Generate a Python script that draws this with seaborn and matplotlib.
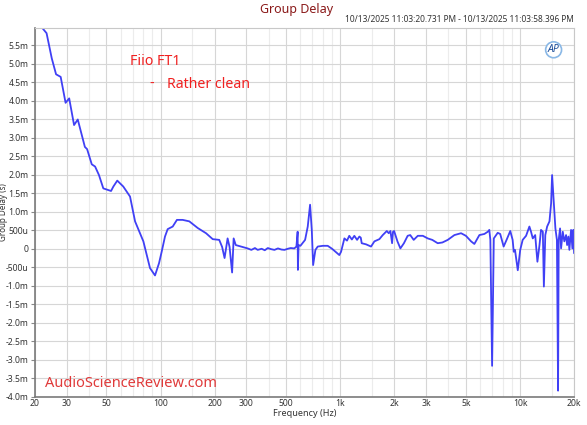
import pandas as pd
import seaborn as sns
import matplotlib.pyplot as plt
from matplotlib.ticker import FixedLocator, FuncFormatter, NullFormatter

# Group delay trace (Hz, milliseconds)
freq_hz = [20, 23.2, 24.8, 26.2, 27.8, 29.6, 31.0, 33.0, 34.6, 37.9,
           39.0, 41.4, 43.2, 45.4, 48.0, 53.0, 54.6, 57.4, 62.0, 67.6,
           72.1, 76.8, 80.2, 83.7, 87.3, 93.1, 98.0, 101.4, 105.8, 109.5,
           116.8, 123.3, 132.7, 144.5, 161, 179, 195, 212, 220, 227,
           236, 242, 250, 255, 262, 280, 305, 320, 335, 347,
           365, 380, 395, 412, 430, 450, 470, 489, 510, 530,
           555, 570, 579, 581, 586, 600, 637, 659, 679, 694,
           706, 727, 749, 800, 851, 900, 950, 988, 1010, 1054,
           1090, 1122, 1160, 1197, 1240, 1277, 1300, 1316, 1391, 1483,
           1548, 1650, 1723, 1815, 1860, 1901, 1942, 1965, 1993, 2080,
           2160, 2260, 2371, 2450, 2562, 2700, 2880, 3066, 3250, 3485,
           3700, 3963, 4315, 4700, 5000, 5345, 5573, 5943, 6336, 6620,
           6750, 6840, 6995, 7150, 7515, 7760, 8110, 8420, 8830, 9100,
           9230, 9380, 9720, 10030, 10350, 10810, 11280, 11520, 11780, 12150,
           12500, 12840, 13090, 13400, 13580, 13830, 14160, 14590, 14900, 15090,
           15400, 15740, 16050, 16290, 16420, 16710, 16930, 17300, 17650, 18050,
           18290, 18590, 18830, 19240, 19570, 19800, 20000]
delay_ms = [6.2, 5.82, 5.14, 4.71, 4.64, 3.94, 4.06, 3.34, 3.49, 2.75,
            2.69, 2.28, 2.22, 1.99, 1.63, 1.56, 1.68, 1.84, 1.68, 1.41,
            0.74, 0.42, 0.20, -0.16, -0.52, -0.72, -0.39, -0.08, 0.33, 0.53,
            0.60, 0.78, 0.78, 0.74, 0.56, 0.42, 0.26, 0.24, 0.05, -0.25,
            0.28, 0.05, -0.64, 0.28, 0.10, 0.06, 0.01, -0.03, 0.02, -0.03,
            0.0, -0.04, 0.02, -0.01, -0.03, 0.01, -0.02, -0.03, 0.0, 0.02,
            0.01, 0.06, 0.46, -0.57, 0.10, 0.08, 0.24, 0.60, 1.19, 0.51,
            -0.44, -0.03, 0.06, 0.08, 0.08, 0.0, -0.10, -0.17, -0.08, 0.28,
            0.22, 0.35, 0.25, 0.35, 0.24, 0.33, 0.30, 0.15, 0.12, 0.06,
            0.20, 0.26, 0.37, 0.48, 0.42, 0.48, 0.15, 0.46, 0.48, 0.20,
            0.01, 0.15, 0.35, 0.37, 0.24, 0.35, 0.35, 0.28, 0.24, 0.15,
            0.17, 0.24, 0.37, 0.42, 0.35, 0.20, 0.13, 0.37, 0.40, 0.46,
            0.51, 0.24, -3.16, 0.28, 0.43, 0.40, 0.06, 0.24, 0.48, 0.24,
            -0.08, -0.03, -0.58, -0.03, 0.24, 0.35, 0.60, 0.46, 0.28, 0.37,
            -0.35, 0.10, 0.51, 0.46, -1.02, 0.37, 0.60, 0.74, 1.23, 1.99,
            1.31, 0.55, 0.24, -3.83, 0.24, 0.55, 0.01, 0.46, 0.20, 0.37,
            0.10, 0.33, -0.03, 0.51, 0.01, 0.51, -0.12]

x_ticks = [20, 30, 50, 100, 200, 300, 500, 1000, 2000, 3000, 5000, 10000, 20000]
x_tick_labels = ["20", "30", "50", "100", "200", "300", "500",
                 "1k", "2k", "3k", "5k", "10k", "20k"]
x_minor = [40, 60, 70, 80, 90, 150, 400, 600, 700, 800, 900, 1500,
           4000, 6000, 7000, 8000, 9000, 15000]
y_ticks = [i * 0.5 for i in range(-8, 12)]

df = pd.DataFrame({"freq": freq_hz, "delay": delay_ms})

sns.set_style("white")
plt.rcParams["font.family"] = ["Noto Sans", "DejaVu Sans"]

fig = plt.figure(figsize=(5.87, 4.25), dpi=100)
ax = fig.add_axes([0.0596, 0.066, 0.9184, 0.869])

sns.lineplot(data=df, x="freq", y="delay", ax=ax, sort=False,
             estimator=None, color="#4040f5", linewidth=1.3)

ax.set_xscale("log")
ax.set_xlim(20, 20000)
ax.set_ylim(-4.0, 5.97)

ax.xaxis.set_major_locator(FixedLocator(x_ticks))
ax.xaxis.set_major_formatter(FuncFormatter(
    lambda v, p: x_tick_labels[x_ticks.index(int(round(v)))] if int(round(v)) in x_ticks else ""))
ax.xaxis.set_minor_locator(FixedLocator(x_minor))
ax.xaxis.set_minor_formatter(NullFormatter())


def fmt_delay(v, pos):
    if abs(v) < 1e-9:
        return "0"
    if abs(v) < 0.99:
        return f"{v * 1000:.0f}u"
    return f"{v:.1f}m"


ax.yaxis.set_major_locator(FixedLocator(y_ticks))
ax.yaxis.set_major_formatter(FuncFormatter(fmt_delay))

ax.grid(True, which="major", color="#d6d6d6", linewidth=0.8)
ax.grid(True, which="minor", axis="x", color="#ececec", linewidth=0.8)
ax.set_axisbelow(True)

ax.tick_params(axis="both", which="both", color="#888888",
               labelsize=6.2, labelcolor="#333333", pad=1.5)
ax.tick_params(axis="x", which="both", bottom=True, length=0)
ax.tick_params(axis="y", left=True, length=3)

for side in ["top", "right"]:
    ax.spines[side].set_color("#c8c8c8")
    ax.spines[side].set_linewidth(0.8)
for side in ["left", "bottom"]:
    ax.spines[side].set_color("#7a7a7a")
    ax.spines[side].set_linewidth(1.2)

ax.set_xlabel("Frequency (Hz)", fontsize=6.5, color="#333333", labelpad=1)
ax.set_ylabel("Group Delay (s)", fontsize=5.8, color="#333333")
ax.yaxis.set_label_coords(-0.0495, 0.5)

fig.text(0.505, 0.978, "Group Delay", ha="center", va="center",
         fontsize=9, color="#8b1a1a")
fig.text(0.978, 0.953, "10/13/2025 11:03:20.731 PM - 10/13/2025 11:03:58.396 PM",
         ha="right", va="center", fontsize=6, color="#333333")

ax.text(0.176, 0.9, "Fiio FT1", transform=ax.transAxes, fontsize=10.2,
        color="#f02020", ha="left", va="baseline")
ax.text(0.213, 0.836, "-", transform=ax.transAxes, fontsize=10.2,
        color="#f02020", ha="left", va="baseline")
ax.text(0.244, 0.836, "Rather clean", transform=ax.transAxes, fontsize=10.2,
        color="#f02020", ha="left", va="baseline")
ax.text(0.019, 0.028, "AudioScienceReview.com", transform=ax.transAxes,
        fontsize=10.5, color="#e03a3a", ha="left", va="baseline")
ax.text(0.962, 0.94, "AP", transform=ax.transAxes, fontsize=7.5,
        color="#1f4f9a", ha="center", va="center", style="italic",
        fontweight="bold",
        bbox=dict(boxstyle="circle,pad=0.2", fc="white", ec="#8ab8e6", lw=1.2))

fig.savefig("out.png", dpi=100, facecolor="white")
